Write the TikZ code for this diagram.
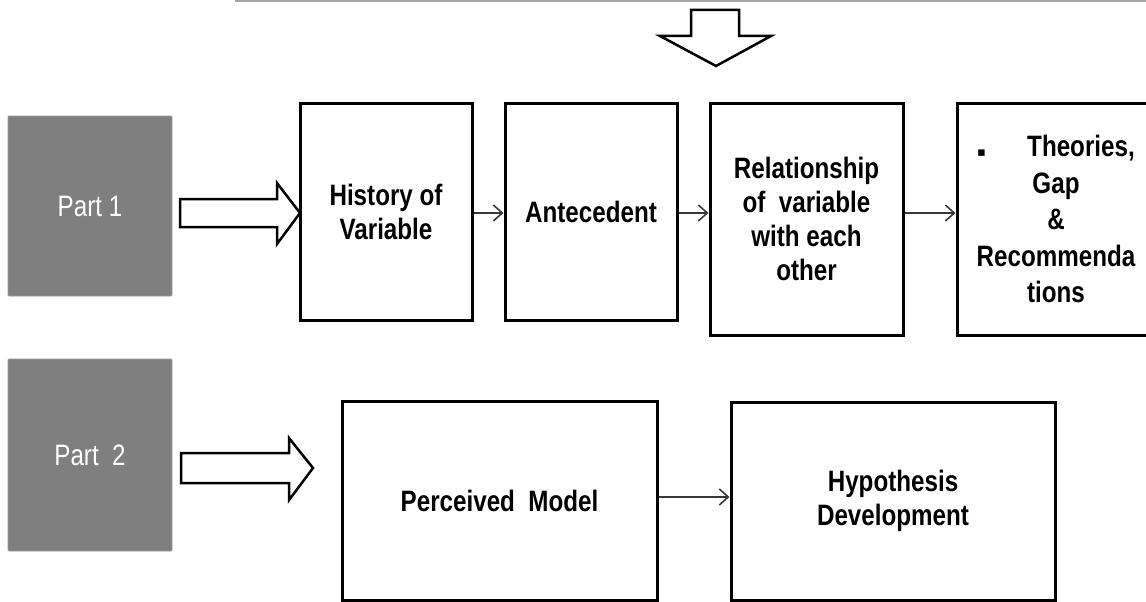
\documentclass[tikz,border=0pt]{standalone}
\usepackage{fontspec}
\setmainfont{Liberation Sans}[FakeStretch=0.82]
\newfontfamily\symfont{DejaVu Sans}
\usetikzlibrary{arrows.meta}
\definecolor{partgray}{HTML}{7F7F7F}
\definecolor{partedge}{HTML}{9C9C9C}
\definecolor{rulegray}{HTML}{A6A6A6}
\definecolor{linkgray}{HTML}{383838}
\tikzset{
  x=1pt, y=-1pt,
  partbox/.style={fill=partgray, draw=partedge, line width=0.8pt, rounded corners=1pt,
    minimum width=164pt, inner sep=0pt, text=white,
    font=\fontsize{29.5}{34}\selectfont},
  stagebox/.style={draw=black, line width=3pt, fill=white, inner sep=0pt,
    align=center, font=\bfseries\fontsize{29.5}{34}\selectfont},
  blockarrow/.style={draw=black, fill=white, line width=2.5pt, miter limit=10},
  link/.style={draw=linkgray, line width=1.4pt,
    -{Straight Barb[length=9pt,width=16pt,line width=1.6pt]}},
}
\begin{document}
\begin{tikzpicture}
\useasboundingbox (0,0) rectangle (1146,602);

% rule along the top and the arrow leading down from it
\draw[rulegray, line width=2pt] (235,1) -- (1146,1);
\draw[blockarrow] (691,10) -- (739,10) -- (739,36) -- (771,36) -- (716,66)
  -- (660,36) -- (691,36) -- cycle;

% the two parts
\node[partbox, minimum height=180pt] (part1) at (90,206) {Part 1};
\node[partbox, minimum height=192pt] (part2) at (90,455) {Part\ \ 2};

% block arrows from each part to its row
\draw[blockarrow] (180,199) -- (277,199) -- (277,183) -- (300,213) -- (277,244)
  -- (277,227) -- (180,227) -- cycle;
\draw[blockarrow] (181,453) -- (289,453) -- (289,438) -- (313,468) -- (289,500)
  -- (289,483) -- (181,483) -- cycle;

% first row of stages
\node[stagebox, minimum width=172pt, minimum height=217pt] (hist) at (386,211.75)
  {History of\\Variable};
\node[stagebox, minimum width=172pt, minimum height=217pt] (ante) at (591,211.75)
  {Antecedent};
\node[stagebox, minimum width=193pt, minimum height=232pt] (rel) at (806.5,219)
  {Relationship\\of\ \ variable\\with each\\other};
\node[stagebox, minimum width=198pt, minimum height=232pt,
  font=\bfseries\fontsize{29.5}{36.5}\selectfont] (theo) at (1056,219)
  {\makebox[50pt][l]{\symfont\mdseries\fontsize{13}{13}\selectfont ▪}Theories,\\Gap\\\&\\Recommenda\\tions};

% second row of stages
\node[stagebox, minimum width=315pt, minimum height=199pt] (model) at (499.5,500.5)
  {Perceived\ \ Model};
\node[stagebox, minimum width=324pt, minimum height=198pt] (hyp) at (893,501)
  {Hypothesis\\Development};

% links between stages, all level at the height of the first row's arrows
\coordinate (rowone) at (0,213);
\coordinate (rowtwo) at (0,497);
\draw[link] (hist.east |- rowone) -- (ante.west |- rowone);
\draw[link] (ante.east |- rowone) -- (rel.west |- rowone);
\draw[link] (rel.east |- rowone) -- (theo.west |- rowone);
\draw[link] (model.east |- rowtwo) -- (hyp.west |- rowtwo);
\end{tikzpicture}
\end{document}
